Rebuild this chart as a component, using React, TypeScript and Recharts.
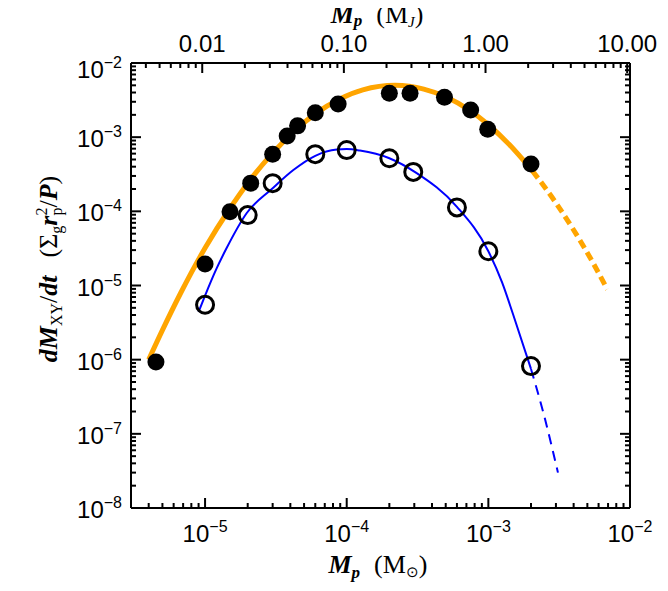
import React from 'react';
import { ComposedChart, Line, Scatter, XAxis, YAxis } from 'recharts';

// solar masses per Jupiter mass (top axis)
const MJ = 9.55e-4;

// filled circles
const filledMass = [4.5e-6, 1.0e-5, 1.5e-5, 2.1e-5, 3.0e-5, 3.8e-5, 4.5e-5, 6.0e-5, 8.7e-5, 2.0e-4, 2.8e-4, 4.9e-4, 7.5e-4, 9.9e-4, 2.0e-3];
const filledRate = [9.3e-7, 1.95e-5, 9.9e-5, 2.4e-4, 5.9e-4, 1.04e-3, 1.42e-3, 2.14e-3, 2.8e-3, 3.9e-3, 3.9e-3, 3.45e-3, 2.32e-3, 1.28e-3, 4.35e-4];

// open circles
const openMass = [1.0e-5, 2.0e-5, 3.0e-5, 6.0e-5, 1.0e-4, 2.0e-4, 2.95e-4, 6.0e-4, 1.0e-3, 2.0e-3];
const openRate = [5.5e-6, 8.9e-5, 2.4e-4, 5.9e-4, 6.7e-4, 5.2e-4, 3.4e-4, 1.13e-4, 2.9e-5, 8.2e-7];

// orange fit (solid, then dashed extension)
const orangeMass = [4.0e-6, 5.0e-6, 6.7e-6, 1.0e-5, 1.5e-5, 2.0e-5, 3.0e-5, 4.5e-5, 6.0e-5, 9.0e-5, 1.3e-4, 2.2e-4, 3.5e-4, 5.0e-4, 7.5e-4, 1.0e-3, 1.4e-3, 2.05e-3];
const orangeRate = [1.0e-6, 2.5e-6, 7.8e-6, 3.2e-5, 1.1e-4, 2.4e-4, 6.1e-4, 1.32e-3, 2.06e-3, 3.3e-3, 4.35e-3, 5.0e-3, 4.45e-3, 3.5e-3, 2.25e-3, 1.47e-3, 8.0e-4, 3.5e-4];
const orangeExtMass = [2.05e-3, 3.0e-3, 4.0e-3, 5.5e-3, 6.9e-3];
const orangeExtRate = [3.5e-4, 1.3e-4, 5.6e-5, 2.0e-5, 8.9e-6];

// blue fit (solid, then dashed extension)
const blueMass = [9.0e-6, 1.0e-5, 1.2e-5, 1.42e-5, 1.97e-5, 2.96e-5, 4.2e-5, 6.0e-5, 8.5e-5, 1.0e-4, 1.24e-4, 2.0e-4, 3.1e-4, 6.0e-4, 1.0e-3, 1.25e-3, 1.5e-3, 2.0e-3];
const blueRate = [4.4e-6, 7.3e-6, 1.66e-5, 3.2e-5, 9.5e-5, 2.0e-4, 3.6e-4, 5.6e-4, 6.8e-4, 6.9e-4, 6.6e-4, 5.2e-4, 3.3e-4, 1.15e-4, 2.9e-5, 1.1e-5, 4.0e-6, 7.5e-7];
const blueExtMass = [2.0e-3, 2.45e-3, 3.1e-3];
const blueExtRate = [7.5e-7, 1.9e-7, 3.0e-8];

// axes
const xDomain = [3.0e-6, 1.0e-2];
const yDomain = [1.0e-8, 1.0e-2];
const xMajor = [1e-5, 1e-4, 1e-3, 1e-2];
const yMajor = [1e-8, 1e-7, 1e-6, 1e-5, 1e-4, 1e-3, 1e-2];
const topMajor = [0.01, 0.1, 1, 10]; // Jupiter masses
const topLabels = ['0.01', '0.10', '1.00', '10.00'];

const pts = (m: number[], r: number[]) => m.map((v, i) => ({ m: v, r: r[i] }));
const minors = (decades: number[], lo: number, hi: number) =>
  decades.flatMap((d) => [2, 3, 4, 5, 6, 7, 8, 9].map((k) => k * d)).filter((v) => v > lo * 1.01 && v < hi * 0.99);
const isMajor = (v: number) => Math.abs(Math.log10(v) - Math.round(Math.log10(v))) < 1e-6;

const xTicks = [...xMajor, ...minors([1e-6, 1e-5, 1e-4, 1e-3], xDomain[0], xDomain[1])];
const yTicks = [...yMajor, ...minors([1e-8, 1e-7, 1e-6, 1e-5, 1e-4, 1e-3], yDomain[0], yDomain[1])];
const topTicks = [...topMajor, ...minors([1e-3, 1e-2, 1e-1, 1], xDomain[0] / MJ, xDomain[1] / MJ)].map((t) => t * MJ);

const SANS = '"Liberation Sans", Arial, Helvetica, sans-serif';
const SERIF = '"Liberation Serif", "Times New Roman", serif';

const Pow = ({ v }: { v: number }) => (
  <>
    10<tspan fontSize={16} dy={-10}>{'\u2212' + Math.abs(Math.round(Math.log10(v)))}</tspan>
  </>
);

const BottomTick = (p: any) => {
  const v = p.payload.value;
  const big = isMajor(v);
  return (
    <g>
      <line x1={p.x} y1={p.y} x2={p.x} y2={p.y - (big ? 10 : 5)} stroke="#000" strokeWidth={2} />
      {big && (
        <text x={p.x} y={p.y + 34} textAnchor="middle" fontFamily={SANS} fontSize={24} fill="#000">
          <Pow v={v} />
        </text>
      )}
    </g>
  );
};

const TopTick = (p: any) => {
  const v = p.payload.value / MJ;
  const big = isMajor(v);
  const i = topMajor.findIndex((t) => Math.abs(t - v) < v * 1e-6);
  return (
    <g>
      <line x1={p.x} y1={p.y} x2={p.x} y2={p.y + (big ? 10 : 5)} stroke="#000" strokeWidth={2} />
      {i >= 0 && (
        <text x={p.x} y={p.y - 11} textAnchor="middle" fontFamily={SANS} fontSize={24} fill="#000">
          {topLabels[i]}
        </text>
      )}
    </g>
  );
};

const LeftTick = (p: any) => {
  const v = p.payload.value;
  const big = isMajor(v);
  const dy = Math.round(Math.log10(v)) === -2 ? 15 : 10;
  return (
    <g>
      <line x1={p.x} y1={p.y} x2={p.x + (big ? 10 : 5)} y2={p.y} stroke="#000" strokeWidth={2} />
      {big && (
        <text x={p.x - 9} y={p.y + dy} textAnchor="end" fontFamily={SANS} fontSize={24} fill="#000">
          <Pow v={v} />
        </text>
      )}
    </g>
  );
};

const RightTick = (p: any) => {
  const big = isMajor(p.payload.value);
  return <line x1={p.x} y1={p.y} x2={p.x - (big ? 10 : 5)} y2={p.y} stroke="#000" strokeWidth={2} />;
};

const Filled = (p: any) => <circle cx={p.cx} cy={p.cy} r={8.5} fill="#000" />;
const Open = (p: any) => <circle cx={p.cx} cy={p.cy} r={8.5} fill="none" stroke="#000" strokeWidth={3} />;

export default function App() {
  return (
    <div style={{ position: 'relative', width: 660, height: 583 }}>
      <ComposedChart width={660} height={583} margin={{ top: 0, right: 8, bottom: 0, left: 0 }}>
        <XAxis
          dataKey="m" type="number" scale="log" domain={xDomain} allowDataOverflow
          ticks={xTicks} interval={0} tick={BottomTick} tickLine={false} tickSize={0} tickMargin={0}
          height={83} axisLine={{ stroke: '#000', strokeWidth: 2 }}
        />
        <XAxis
          xAxisId="top" orientation="top" dataKey="m" type="number" scale="log" domain={xDomain} allowDataOverflow
          ticks={topTicks} interval={0} tick={TopTick} tickLine={false} tickSize={0} tickMargin={0}
          height={55} axisLine={{ stroke: '#000', strokeWidth: 2 }}
        />
        <YAxis
          dataKey="r" type="number" scale="log" domain={yDomain} allowDataOverflow
          ticks={yTicks} interval={0} tick={LeftTick} tickLine={false} tickSize={0} tickMargin={0}
          width={123} axisLine={{ stroke: '#000', strokeWidth: 2 }}
        />
        <YAxis
          yAxisId="right" orientation="right" dataKey="r" type="number" scale="log" domain={yDomain} allowDataOverflow
          ticks={yTicks} interval={0} tick={RightTick} tickLine={false} tickSize={0} tickMargin={0}
          width={30} axisLine={{ stroke: '#000', strokeWidth: 2 }}
        />

        {/* invisible copy of the data so the top/right frame axes get drawn */}
        <Line xAxisId="top" yAxisId="right" data={pts(filledMass, filledRate)} dataKey="r" stroke="none" dot={false} isAnimationActive={false} />

        <Scatter data={pts(filledMass, filledRate)} shape={Filled} isAnimationActive={false} />
        <Scatter data={pts(openMass, openRate)} shape={Open} isAnimationActive={false} />

        <Line data={pts(blueMass, blueRate)} dataKey="r" type="monotone" stroke="#0000ff" strokeWidth={2} dot={false} isAnimationActive={false} />
        <Line data={pts(blueExtMass, blueExtRate)} dataKey="r" type="monotone" stroke="#0000ff" strokeWidth={2} strokeDasharray="10 7" dot={false} isAnimationActive={false} />
        <Line data={pts(orangeMass, orangeRate)} dataKey="r" type="monotone" stroke="#ffa500" strokeWidth={5} dot={false} isAnimationActive={false} />
        <Line data={pts(orangeExtMass, orangeExtRate)} dataKey="r" type="monotone" stroke="#ffa500" strokeWidth={5} strokeDasharray="9 5" dot={false} isAnimationActive={false} />
      </ComposedChart>

      {/* axis titles, in page coordinates (svg pulled back over the body margin) */}
      <svg width={668} height={591} style={{ position: 'absolute', left: -8, top: -8, pointerEvents: 'none' }}>
        <text x={377} y={23} textAnchor="middle" fontFamily={SERIF} fontSize={26} fill="#000">
          <tspan fontStyle="italic" fontWeight="bold">M</tspan>
          <tspan fontStyle="italic" fontWeight="bold" fontSize={17} dy={3}>p</tspan>
          <tspan dy={-3} dx={14}>(M</tspan>
          <tspan fontStyle="italic" fontSize={15} dy={4}>J</tspan>
          <tspan dy={-4}>)</tspan>
        </text>
        <text x={378} y={573} textAnchor="middle" fontFamily={SERIF} fontSize={26} fill="#000">
          <tspan fontStyle="italic" fontWeight="bold">M</tspan>
          <tspan fontStyle="italic" fontWeight="bold" fontSize={17} dy={5}>p</tspan>
          <tspan dy={-5} dx={14}>(M</tspan>
          <tspan fontSize={15} dy={4}>{'\u2299'}</tspan>
          <tspan dy={-4}>)</tspan>
        </text>
        <text transform="translate(57, 269) rotate(-90)" textAnchor="middle" fontFamily={SERIF} fontSize={26} fill="#000">
          <tspan fontStyle="italic" fontWeight="bold">dM</tspan>
          <tspan fontSize={16} dy={5}>XY</tspan>
          <tspan dy={-5}>/</tspan>
          <tspan fontStyle="italic" fontWeight="bold">dt</tspan>
          <tspan dx={18}>({'\u03A3'}</tspan>
          <tspan fontSize={16} dy={5}>g</tspan>
          <tspan fontStyle="italic" fontWeight="bold" dy={-5}>r</tspan>
          <tspan fontSize={16} dy={5}>p</tspan>
          <tspan fontSize={16} dx={-8} dy={-15}>2</tspan>
          <tspan dy={10}>/</tspan>
          <tspan fontStyle="italic" fontWeight="bold">P</tspan>
          <tspan>)</tspan>
        </text>
      </svg>
    </div>
  );
}
